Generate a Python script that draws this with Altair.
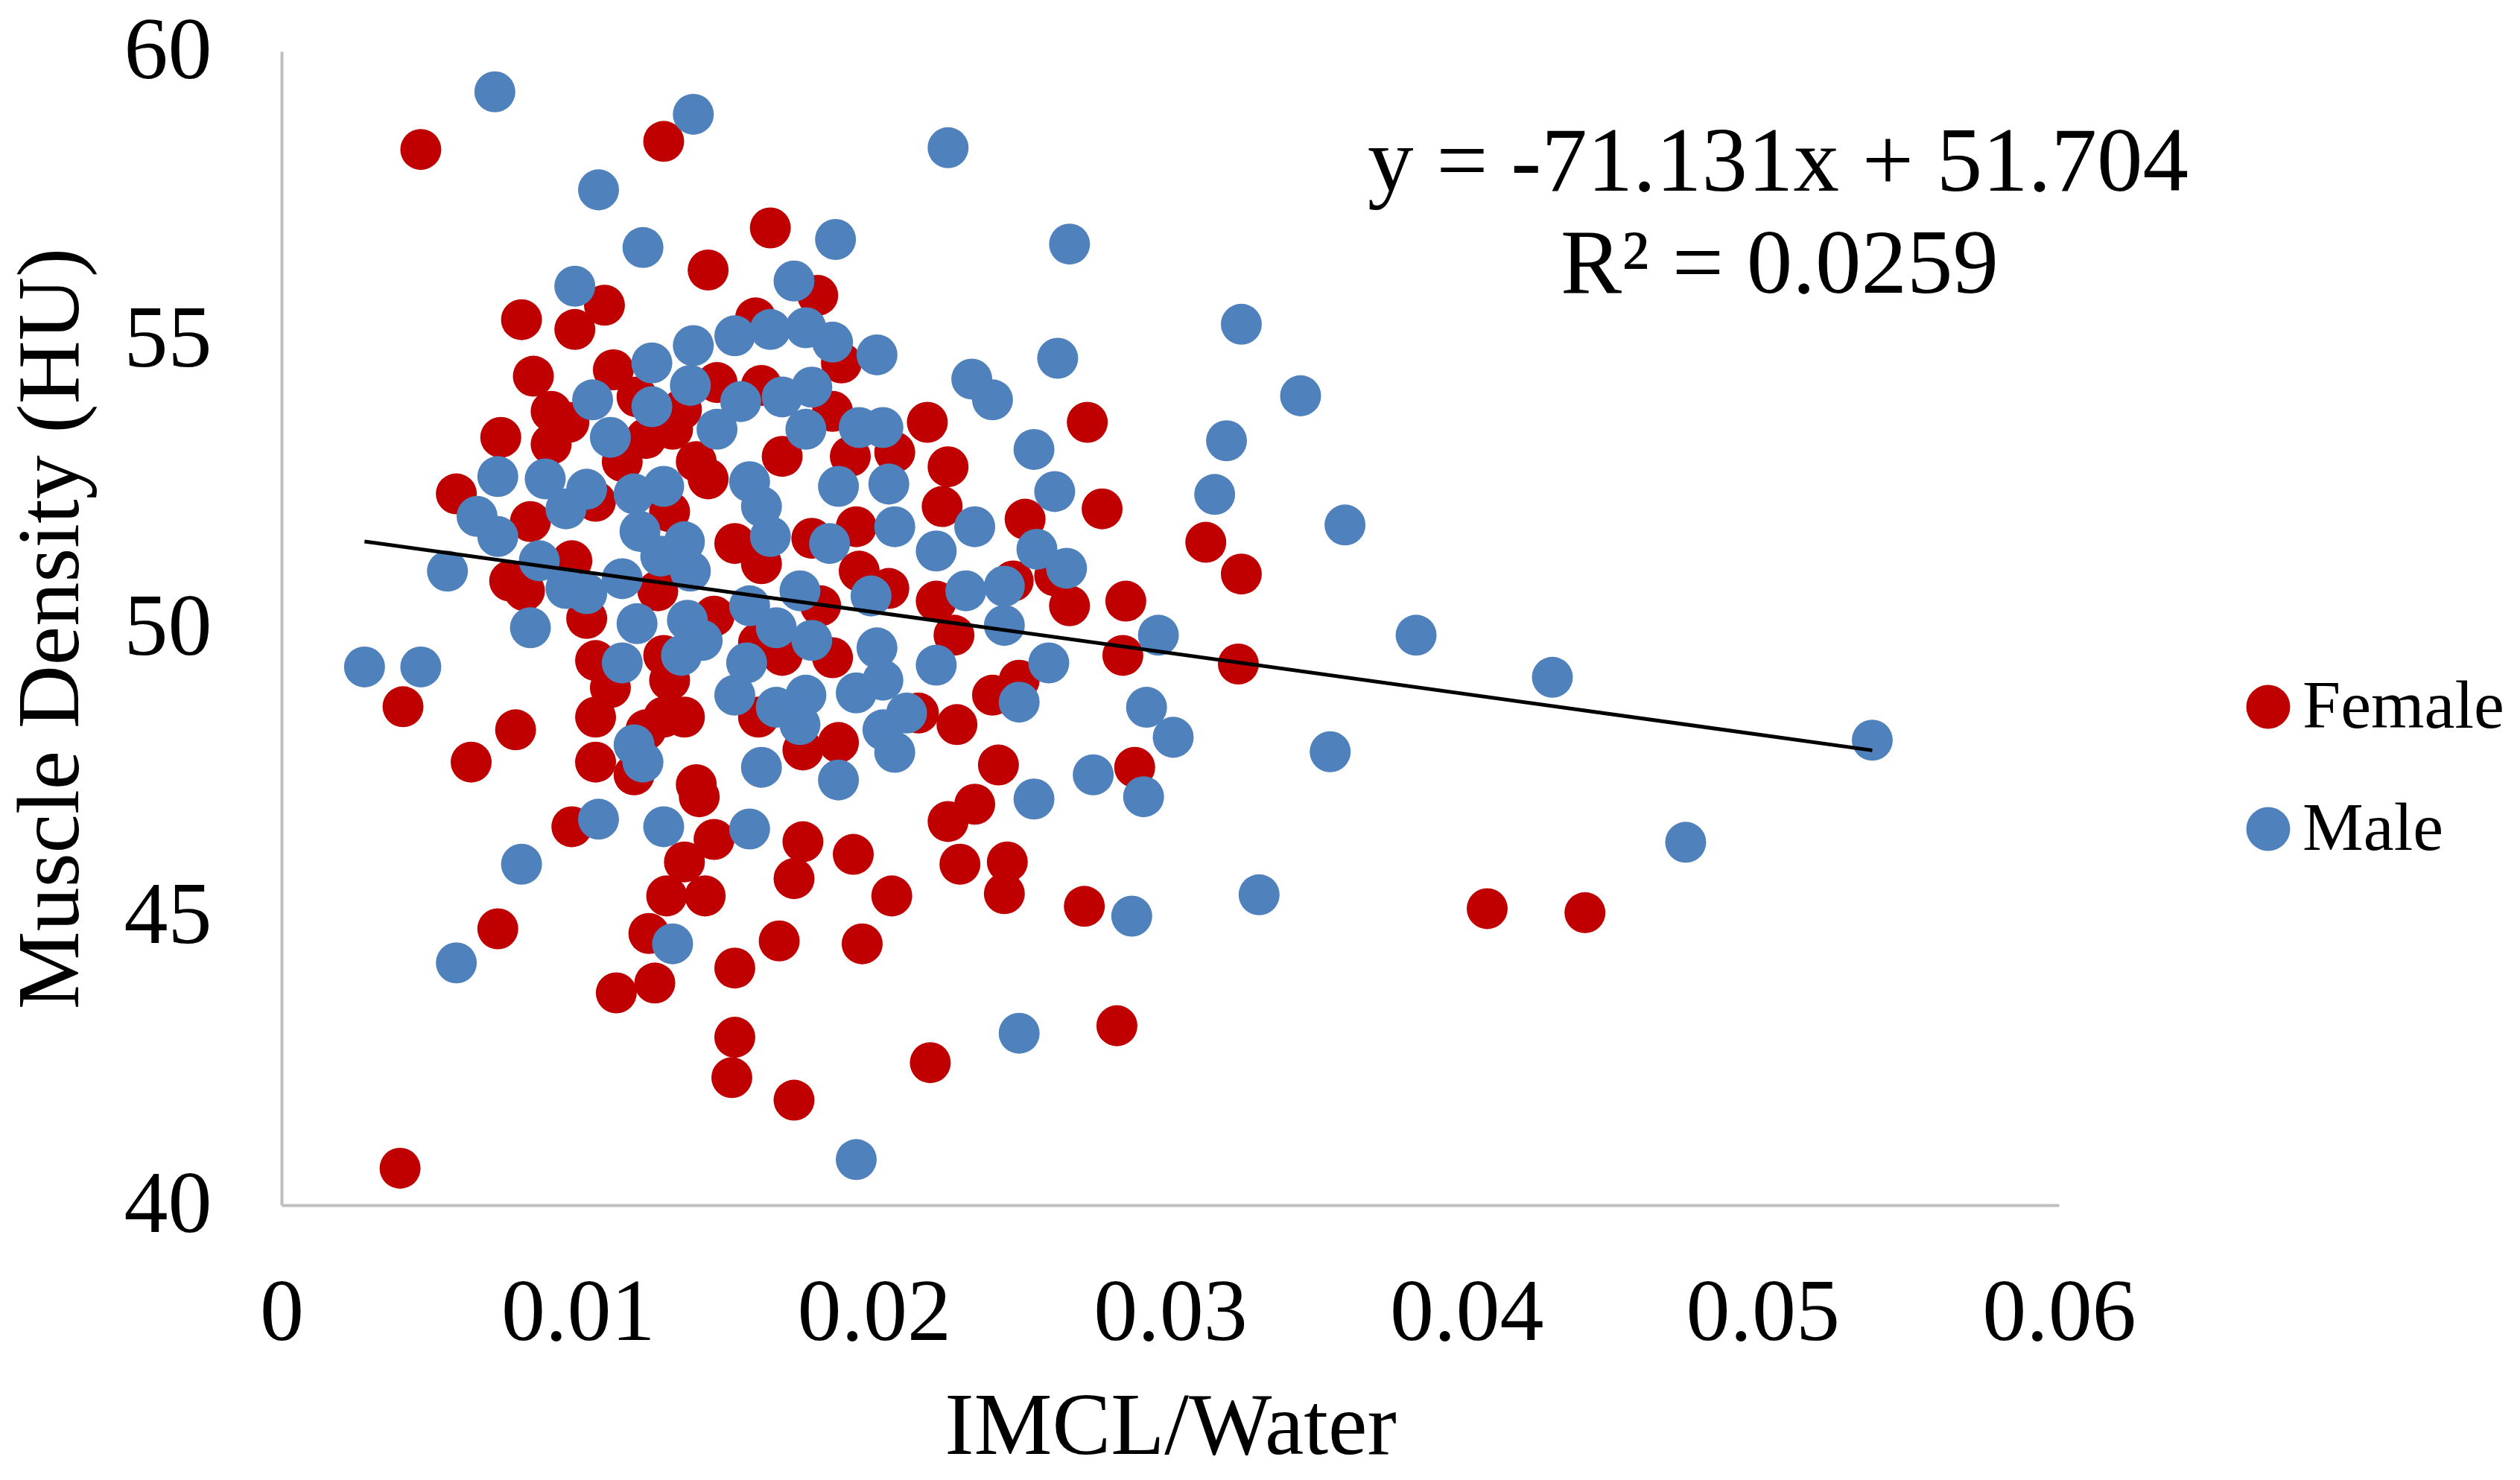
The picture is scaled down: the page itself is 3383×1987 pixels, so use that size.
import altair as alt
import pandas as pd

# ---------------- data ----------------
female_x = [0.0047, 0.0129, 0.0165, 0.0144, 0.0181, 0.0160, 0.0189, 0.0147, 0.0162, 0.0186,
            0.0109, 0.0099, 0.0081, 0.0085, 0.0112, 0.0120, 0.0135, 0.0091, 0.0074, 0.0097,
            0.0123, 0.0132, 0.0218, 0.0272,
            0.0091, 0.0059, 0.0106, 0.0084, 0.0098, 0.0077, 0.0082, 0.0103, 0.0131, 0.0115,
            0.0140, 0.0144, 0.0127, 0.0106, 0.0111, 0.0129, 0.0131, 0.0146, 0.0153, 0.0162,
            0.0169, 0.0179, 0.0161, 0.0169, 0.0161, 0.0176, 0.0106, 0.0129, 0.0136, 0.0123,
            0.0119, 0.0106, 0.0079, 0.0064, 0.0140,
            0.0192, 0.0207, 0.0225, 0.0223, 0.0277, 0.0194, 0.0251, 0.0261, 0.0195, 0.0205,
            0.0221, 0.0247, 0.0227, 0.0266, 0.0285, 0.0284, 0.0182, 0.0186, 0.0240, 0.0249,
            0.0215, 0.0228, 0.0188, 0.0242, 0.0288, 0.0234,
            0.0141, 0.0098, 0.0146, 0.0176, 0.0136, 0.0173, 0.0130, 0.0143, 0.0073, 0.0124,
            0.0168, 0.0153, 0.0113, 0.0126, 0.0153, 0.0152, 0.0173,
            0.0225, 0.0193, 0.0229, 0.0245, 0.0244, 0.0206, 0.0271, 0.0196, 0.0282, 0.0219,
            0.0312, 0.0324, 0.0323, 0.0407, 0.0440,
            0.0041, 0.0040]
female_y = [58.30, 58.44, 56.94, 56.21, 55.77, 55.38, 54.60, 54.26, 54.21, 53.76,
            55.60, 55.18, 55.35, 54.37, 54.48, 54.01, 53.79, 53.76, 53.31, 53.57,
            53.29, 53.45, 53.57, 53.57,
            53.19, 52.33, 52.20, 51.85, 51.17, 50.82, 50.65, 50.17, 52.02, 52.89,
            52.89, 52.59, 50.65, 49.44, 48.97, 49.53, 49.10, 50.21, 51.47, 51.12,
            52.98, 51.56, 49.75, 49.53, 48.46, 47.89, 48.46, 48.46, 48.46, 48.24,
            47.46, 47.68, 48.24, 47.68, 47.29,
            52.98, 53.05, 52.80, 52.11, 52.07, 51.76, 51.89, 50.91, 50.99, 50.69,
            50.47, 50.82, 49.88, 50.39, 50.47, 49.53, 50.39, 49.49, 48.84, 49.10,
            48.53, 48.33, 48.02, 47.63, 47.59, 46.95,
            47.08, 46.56, 46.34, 46.30, 45.95, 45.66, 45.36, 45.36, 44.79, 44.71,
            44.58, 44.11, 43.68, 43.85, 42.91, 42.21, 41.82,
            46.65, 46.08, 45.91, 45.95, 45.40, 45.36, 45.18, 44.53, 43.11, 42.47,
            51.49, 50.94, 49.38, 45.14, 45.07,
            48.64, 40.64]

male_x = [0.0072, 0.0139, 0.0225, 0.0107, 0.0187, 0.0122, 0.0266, 0.0099, 0.0173, 0.0324,
          0.0153, 0.0165, 0.0177, 0.0186, 0.0201, 0.0139, 0.0138, 0.0155, 0.0169, 0.0179,
          0.0147, 0.0177, 0.0195, 0.0203,
          0.0125, 0.0105, 0.0125, 0.0111,
          0.0262, 0.0233, 0.0240, 0.0254,
          0.0073, 0.0089, 0.0103, 0.0096, 0.0066, 0.0073, 0.0087, 0.0096, 0.0103, 0.0084,
          0.0115, 0.0119, 0.0121, 0.0129, 0.0136, 0.0128, 0.0138, 0.0120, 0.0115, 0.0135,
          0.0137, 0.0142, 0.0158, 0.0162, 0.0165, 0.0175, 0.0158, 0.0167, 0.0179, 0.0157,
          0.0153, 0.0167, 0.0177, 0.0175, 0.0162, 0.0119, 0.0122, 0.0056,
          0.0188, 0.0205, 0.0261, 0.0185, 0.0207, 0.0221, 0.0234, 0.0255, 0.0265, 0.0199,
          0.0231, 0.0244, 0.0244, 0.0296, 0.0259, 0.0221, 0.0201, 0.0203, 0.0194, 0.0249,
          0.0211, 0.0203, 0.0207, 0.0188, 0.0292, 0.0301, 0.0274, 0.0291, 0.0254,
          0.0107, 0.0129, 0.0158, 0.0081, 0.0132, 0.0059,
          0.0287, 0.0249, 0.0194,
          0.0344, 0.0319, 0.0315, 0.0359, 0.0383, 0.0429, 0.0537, 0.0354, 0.0474, 0.0330,
          0.0028, 0.0047]
male_y = [59.30, 58.91, 58.33, 57.60, 56.74, 56.60, 56.66, 55.93, 56.02, 55.27,
          55.07, 55.18, 55.21, 54.96, 54.74, 54.90, 54.21, 53.93, 54.01, 54.18,
          53.45, 53.45, 53.48, 53.48,
          54.60, 53.96, 53.84, 53.31,
          54.68, 54.32, 53.96, 53.10,
          52.63, 52.59, 52.41, 52.07, 51.94, 51.59, 51.17, 50.69, 50.60, 50.01,
          50.86, 52.33, 51.68, 52.46, 51.50, 51.25, 50.99, 50.08, 49.40, 49.53,
          50.14, 49.79, 52.54, 52.11, 51.59, 50.65, 50.39, 50.01, 49.79, 49.40,
          48.84, 48.63, 48.84, 48.33, 47.59, 47.98, 47.68, 50.99,
          52.46, 52.50, 52.37, 51.47, 51.76, 51.34, 51.76, 51.37, 51.04, 50.56,
          50.65, 50.73, 50.05, 49.88, 49.40, 49.36, 49.66, 49.10, 48.88, 48.72,
          48.53, 48.24, 47.85, 47.37, 48.63, 48.11, 47.46, 47.08, 47.04,
          46.69, 46.56, 46.52, 45.91, 44.53, 44.20,
          45.01, 42.98, 40.79,
          54.03, 53.25, 52.32, 51.79, 49.88, 49.15, 48.06, 47.86, 46.29, 45.38,
          49.33, 49.33]

series_names = ["Female", "Male"]
series_colors = ["#C00000", "#4F81BD"]

slope = -71.131
intercept = 51.704
equation_text = "y = -71.131x + 51.704"
r2_text = "R\u00b2 = 0.0259"

x_ticks = [0, 0.01, 0.02, 0.03, 0.04, 0.05, 0.06]
y_ticks = [40, 45, 50, 55, 60]

x_title = "IMCL/Water"
y_title = "Muscle Density (HU)"

# ---------------- tables ----------------
df = pd.concat([
    pd.DataFrame({"x": female_x, "y": female_y, "Sex": "Female", "ord": 0}),
    pd.DataFrame({"x": male_x, "y": male_y, "Sex": "Male", "ord": 1}),
], ignore_index=True)

all_x = female_x + male_x
line_df = pd.DataFrame({"x": [min(all_x), max(all_x)]})
line_df["y"] = slope * line_df["x"] + intercept

# ---------------- chart ----------------
W, H = 2386, 1549
FONT = "Liberation Serif"
AXIS_GREY = "#BFBFBF"

x_scale = alt.Scale(domain=[0, 0.06], nice=False, zero=False)
y_scale = alt.Scale(domain=[40, 60], nice=False, zero=False)

x_axis = alt.Axis(values=x_ticks, format=".2~f", title=x_title, grid=False, ticks=False,
                  domainColor=AXIS_GREY, domainWidth=4, labelFont=FONT, labelFontSize=118,
                  labelColor="black", labelPadding=87, labelFlush=False, labelLimit=0,
                  labelOverlap=False,
                  titleFont=FONT, titleFontSize=118, titleFontWeight="normal",
                  titleColor="black", titleY=298, titleBaseline="middle", titleLimit=0)
y_axis = alt.Axis(values=y_ticks, format="d", title=y_title, grid=False, ticks=False,
                  domainColor=AXIS_GREY, domainWidth=4, labelFont=FONT, labelFontSize=118,
                  labelColor="black", labelPadding=94, labelFlush=False, labelLimit=0,
                  labelOverlap=False,
                  titleFont=FONT, titleFontSize=118, titleFontWeight="normal",
                  titleColor="black", titleX=-309, titleBaseline="middle", titleLimit=0)

points = alt.Chart(df).mark_circle(size=3025, opacity=1, strokeWidth=0).encode(
    x=alt.X("x:Q", scale=x_scale, axis=x_axis),
    y=alt.Y("y:Q", scale=y_scale, axis=y_axis),
    color=alt.Color("Sex:N", title=None,
                    scale=alt.Scale(domain=series_names, range=series_colors),
                    legend=alt.Legend(orient="none", legendX=2621, legendY=834,
                                      labelFont=FONT, labelFontSize=92, labelColor="black",
                                      labelLimit=0,
                                      symbolType="circle", symbolSize=3480,
                                      symbolStrokeWidth=0, symbolOpacity=1,
                                      labelOffset=0, rowPadding=72, padding=0)),
    order=alt.Order("ord:Q"),
)

trend = alt.Chart(line_df).mark_line(color="black", strokeWidth=5).encode(
    x=alt.X("x:Q", scale=x_scale),
    y=alt.Y("y:Q", scale=y_scale),
)

eq1 = alt.Chart(pd.DataFrame({"t": [equation_text]})).mark_text(
    font=FONT, fontSize=123, color="black", align="center", baseline="middle"
).encode(text="t:N", x=alt.value(2009), y=alt.value(150))

eq2 = alt.Chart(pd.DataFrame({"t": [r2_text]})).mark_text(
    font=FONT, fontSize=123, color="black", align="center", baseline="middle"
).encode(text="t:N", x=alt.value(2011), y=alt.value(287))

chart = alt.layer(points, trend, eq1, eq2).properties(
    width=W, height=H,
    autosize=alt.AutoSizeParams(type="none"),
    padding={"left": 370, "top": 61, "right": 611, "bottom": 361},
    background="white",
).configure_view(stroke=None)

chart.save("out.html", embed_options={"renderer": "svg", "actions": False})
